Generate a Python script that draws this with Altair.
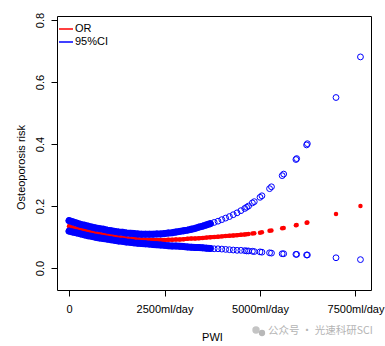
import altair as alt
import pandas as pd

# PWI (ml/day)
x_vals = [0, 100, 200, 300, 400, 500, 600, 700, 800, 900, 1000, 1100, 1200, 1300,
          1400, 1500, 1600, 1700, 1800, 1900, 2000, 2100, 2200, 2300, 2400, 2500,
          2600, 2700, 2800, 2900, 3000, 3100, 3200, 3300, 3400, 3500, 3600, 3700,
          3800, 3900, 4000, 4100, 4200, 4300, 4400, 4500, 4600, 4650, 4700, 4800,
          4850, 5000, 5050, 5250, 5300, 5580, 5620, 5940, 5960, 6220, 6240, 6990, 7630]
or_vals = [.135, .131, .127, .124, .121, .118, .115, .112, .110, .108, .106, .104, .102, .100,
           .098, .096, .095, .094, .093, .092, .091, .091, .090, .090, .090, .090,
           .091, .091, .092, .092, .093, .094, .095, .095, .096, .097, .098, .099,
           .100, .101, .102, .103, .104, .105, .106, .107, .108, .109, .110, .111,
           .112, .114, .115, .120, .121, .128, .129, .138, .139, .146, .147, .174, .200]
lo_vals = [.119, .116, .113, .110, .107, .104, .102, .099, .097, .095, .093, .091, .089, .087,
           .086, .084, .083, .081, .080, .079, .078, .077, .076, .075, .074, .073,
           .072, .071, .071, .070, .069, .068, .067, .066, .066, .065, .064, .063,
           .062, .062, .061, .060, .059, .058, .057, .057, .056, .055, .055, .054,
           .053, .052, .051, .049, .048, .046, .046, .044, .044, .042, .042, .033, .027]
hi_vals = [.153, .149, .145, .141, .138, .135, .132, .129, .127, .125, .122, .120, .118, .116,
           .115, .113, .112, .111, .110, .109, .109, .109, .109, .110, .110, .111,
           .113, .114, .116, .118, .120, .122, .125, .128, .132, .135, .139, .143,
           .147, .151, .156, .161, .166, .172, .178, .185, .192, .196, .200, .210,
           .214, .228, .233, .256, .262, .298, .303, .350, .353, .397, .401, .550, .681]

series_names = ["OR", "95%CI"]
series_colors = ["red", "blue"]
x_ticks = [0, 2500, 5000, 7500]
y_ticks = [0.0, 0.2, 0.4, 0.6, 0.8]

rows = []
for i, xv in enumerate(x_vals):
    rows.append({"x": xv, "y": or_vals[i], "series": "OR", "bound": "or"})
    rows.append({"x": xv, "y": lo_vals[i], "series": "95%CI", "bound": "lo"})
    rows.append({"x": xv, "y": hi_vals[i], "series": "95%CI", "bound": "hi"})
df = pd.DataFrame(rows)

FONT = "Liberation Sans"

xscale = alt.Scale(domain=[-315, 7906], nice=False, zero=False)
yscale = alt.Scale(domain=[-0.071, 0.813], nice=False, zero=False)
cscale = alt.Scale(domain=series_names, range=series_colors)

xenc = alt.X("x:Q", scale=xscale, title="PWI",
             axis=alt.Axis(values=x_ticks,
                           labelExpr="datum.value == 0 ? '0' : datum.value + 'ml/day'",
                           domain=False, grid=False, tickSize=6, tickColor="black",
                           labelPadding=7, labelFontSize=11, labelColor="black",
                           labelFont=FONT, titleFont=FONT, titleFontSize=11,
                           titleFontWeight="normal", titleColor="black",
                           titleX=155, titleY=47, titleBaseline="middle",
                           labelOverlap=False, labelFlush=False))
yenc = alt.Y("y:Q", scale=yscale, title="Osteoporosis risk",
             axis=alt.Axis(values=y_ticks, format=".1f", domain=False, grid=False,
                           tickSize=6, tickColor="black", labelAngle=270,
                           labelAlign="center", labelBaseline="bottom",
                           labelPadding=6, labelFontSize=11, labelColor="black",
                           labelFont=FONT, titleFont=FONT, titleFontSize=11,
                           titleFontWeight="normal", titleColor="black",
                           titleAngle=270, titleX=-36, titleY=151,
                           titleBaseline="middle", titleAlign="center",
                           labelOverlap=False))

base = alt.Chart(df)

red_line = base.transform_filter("datum.series == 'OR' && datum.x <= 4600").mark_line(
    strokeWidth=4, strokeCap="round", color="red").encode(x=xenc, y=yenc, detail="bound:N")
red_pts = base.transform_filter("datum.series == 'OR'").mark_point(
    filled=True, size=20, opacity=1).encode(
    x=xenc, y=yenc,
    color=alt.Color("series:N", scale=cscale, title=None,
                    legend=alt.Legend(orient="none", legendX=1, legendY=5,
                                      symbolType="stroke", symbolSize=196,
                                      symbolStrokeWidth=1.5, labelFontSize=11,
                                      labelFont=FONT, labelColor="black",
                                      labelOffset=1, rowPadding=0, padding=0,
                                      values=series_names)))
blue_line = base.transform_filter("datum.series == '95%CI' && datum.x <= 3700").mark_line(
    strokeWidth=7, strokeCap="round", color="blue").encode(x=xenc, y=yenc, detail="bound:N")
blue_pts = base.transform_filter("datum.series == '95%CI'").mark_point(
    filled=False, size=34, strokeWidth=1, opacity=1).encode(
    x=xenc, y=yenc, color=alt.Color("series:N", scale=cscale, legend=None))

wm_icon = alt.Chart(pd.DataFrame({"a": [1]})).mark_point(
    filled=True, size=55, color="#c4c4c4", opacity=1).encode(
    x=alt.value(199), y=alt.value(314))
wm_icon2 = alt.Chart(pd.DataFrame({"a": [1]})).mark_point(
    filled=True, size=40, color="#b8b8b8", opacity=1).encode(
    x=alt.value(205), y=alt.value(317))
wm_text = alt.Chart(pd.DataFrame({"t": ["公众号 · 光速科研SCI"]})).mark_text(
    align="left", baseline="middle", fontSize=10.5, color="#b4b4b4",
    font="Noto Sans CJK SC").encode(x=alt.value(211), y=alt.value(315), text="t:N")

chart = alt.layer(red_line, red_pts, blue_line, blue_pts, wm_icon, wm_icon2, wm_text).properties(
    width=314, height=274,
    autosize=alt.AutoSizeParams(type="none"),
    padding={"left": 57, "top": 16, "right": 14, "bottom": 56},
    background="white",
).configure_view(stroke="black", strokeWidth=1)

chart.save("out.html", embed_options={"renderer": "svg", "actions": False})
